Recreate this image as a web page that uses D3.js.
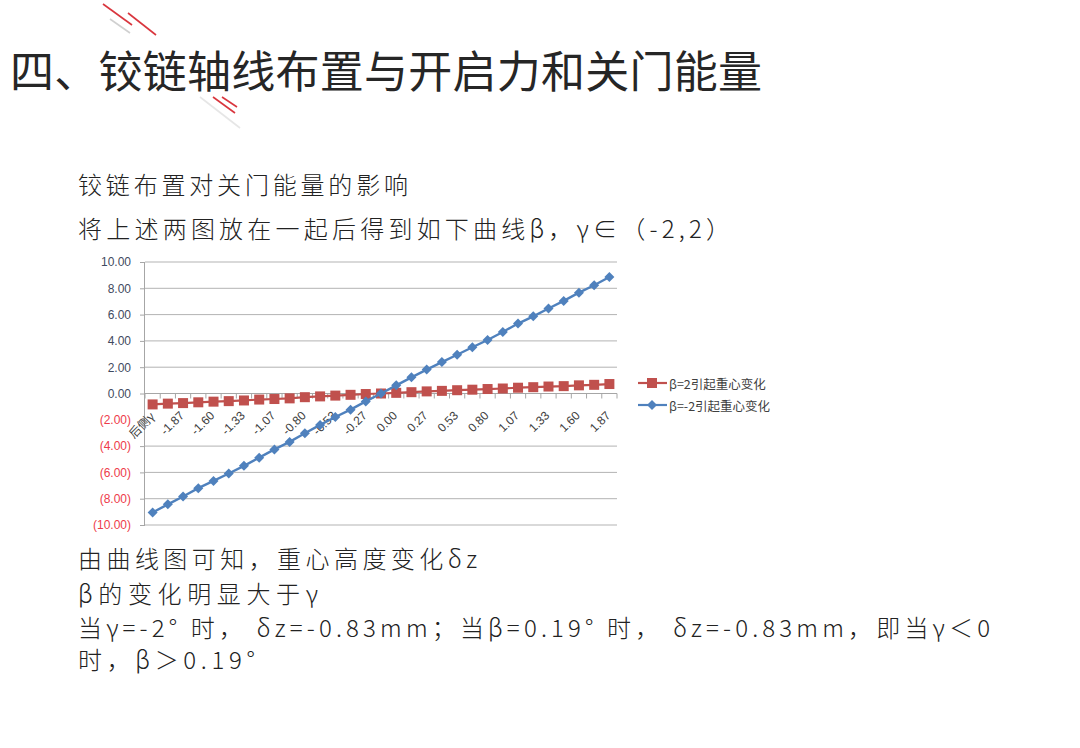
<!DOCTYPE html>
<html><head><meta charset="utf-8">
<script src="https://cdn.jsdelivr.net/npm/d3@7/dist/d3.min.js"></script>
<style>
html,body{margin:0;padding:0;background:#fff;}
svg{display:block;}
</style></head>
<body>
<svg id="c" width="1080" height="748"></svg>
<script>
// ---- data ----
const categories = ["后侧γ","-2.00","-1.87","-1.73","-1.60","-1.47","-1.33","-1.20","-1.07","-0.93","-0.80","-0.67","-0.53","-0.40","-0.27","-0.13","0.00","0.13","0.27","0.40","0.53","0.67","0.80","0.93","1.07","1.20","1.33","1.47","1.60","1.73","1.87"];
const redValues = [-0.83,-0.77,-0.73,-0.67,-0.62,-0.58,-0.53,-0.46,-0.42,-0.37,-0.28,-0.22,-0.16,-0.10,-0.04,0.00,0.05,0.10,0.16,0.20,0.25,0.29,0.34,0.38,0.44,0.48,0.53,0.56,0.62,0.66,0.72];
const blueValues = [-9.05,-8.43,-7.83,-7.20,-6.65,-6.08,-5.50,-4.88,-4.25,-3.68,-3.02,-2.39,-1.79,-1.23,-0.60,0.00,0.62,1.23,1.82,2.39,2.95,3.52,4.07,4.68,5.32,5.87,6.46,7.04,7.67,8.23,8.86];
const seriesNames = ["β=2引起重心变化","β=-2引起重心变化"];
const yTicks = [10,8,6,4,2,0,-2,-4,-6,-8,-10];

const title = "四、铰链轴线布置与开启力和关门能量";
const bodyTop = ["铰链布置对关门能量的影响","将上述两图放在一起后得到如下曲线β，γ∈（-2,2）"];
const bodyBottom = ["由曲线图可知，重心高度变化δz","β的变化明显大于γ","当γ=-2° 时， δz=-0.83mm；当β=0.19° 时，  δz=-0.83mm，即当γ＜0","时，β＞0.19°"];

// ---- layout ----
const svg = d3.select("#c");
const CJK = "'Noto Sans CJK SC','Noto Sans',sans-serif";
const LAT = "'Liberation Sans','DejaVu Sans',sans-serif";
const plot = {left:145, right:617, top:262, bottom:525};

// decorative strokes
const deco = svg.append("g");
[[103,4,132,25,"#d9363e"],[128,13,156,35,"#d9363e"],[110,19,130,33,"#d0d0d0"],
 [213,97,235,113,"#d9363e"],[222,97,237,107,"#d9363e"],[200,97,240,128,"#e6e6e6"]]
 .forEach(d=>deco.append("line").attr("x1",d[0]).attr("y1",d[1]).attr("x2",d[2]).attr("y2",d[3])
   .attr("stroke",d[4]).attr("stroke-width",1.6));

svg.append("text").attr("x",10).attr("y",69).attr("dominant-baseline","central")
  .attr("font-family",CJK).attr("font-size",44).attr("fill","#262626")
  .attr("textLength",752).attr("lengthAdjust","spacing").text(title);

const topY=[183,227], topW=[330,652];
bodyTop.forEach((t,i)=>svg.append("text").attr("x",78).attr("y",topY[i]).attr("dominant-baseline","central")
  .attr("font-family",CJK).attr("font-size",24).attr("font-weight",300).attr("fill","#222")
  .attr("textLength",topW[i]).attr("lengthAdjust","spacing").text(t));
const botY=[557,592,626,658], botW=[399,240,912,177];
bodyBottom.forEach((t,i)=>svg.append("text").attr("x",78).attr("y",botY[i]).attr("dominant-baseline","central")
  .attr("font-family",CJK).attr("font-size",24).attr("font-weight",300).attr("fill","#222")
  .attr("textLength",botW[i]).attr("lengthAdjust","spacing").text(t));

// ---- chart ----
const x = d3.scaleBand().domain(d3.range(categories.length)).range([plot.left,plot.right]);
const y = d3.scaleLinear().domain([-10,10]).range([plot.bottom,plot.top]);
const g = svg.append("g");

// gridlines
g.selectAll("line.grid").data(yTicks.filter(v=>v!==0 && v!==-2)).enter().append("line")
  .attr("x1",plot.left).attr("x2",plot.right).attr("y1",d=>y(d)).attr("y2",d=>y(d))
  .attr("stroke","#b3b3b3").attr("stroke-width",1);

// y axis
const yAxis = d3.axisLeft(y).tickValues(yTicks).tickSize(5).tickPadding(9)
  .tickFormat(v=> v<0 ? "("+(-v).toFixed(2)+")" : v.toFixed(2));
const ya = g.append("g").attr("transform",`translate(${plot.left},0)`).call(yAxis);
ya.select(".domain").attr("stroke","#a6a6a6").attr("d",`M-0.5,${plot.top}V${plot.bottom}`);
ya.selectAll(".tick line").attr("stroke","#a6a6a6");
ya.selectAll(".tick text").attr("font-family",LAT).attr("font-size",12)
  .attr("fill",d=> d<0 ? "#ee3b4a" : "#3f4a60");

// x axis at 0
g.append("line").attr("x1",plot.left).attr("x2",plot.right).attr("y1",y(0)).attr("y2",y(0))
  .attr("stroke","#a6a6a6").attr("stroke-width",1.2);
const bounds = d3.range(categories.length+1).map(i=> i<categories.length ? x(i) : x(i-1)+x.bandwidth());
g.selectAll("line.xt").data(bounds).enter().append("line")
  .attr("x1",d=>d).attr("x2",d=>d).attr("y1",y(0)).attr("y2",y(0)+5).attr("stroke","#a6a6a6");
g.selectAll("text.xl").data(categories.map((c,i)=>({c,i})).filter(d=>d.i%2===0)).enter().append("text")
  .attr("transform",d=>`translate(${x(d.i)+x.bandwidth()/2-1},${y(0)+20}) rotate(-45)`)
  .attr("text-anchor","end").attr("dominant-baseline","central")
  .attr("font-family",d=> d.i===0 ? CJK : LAT).attr("font-size",12).attr("fill","#404040")
  .text(d=>d.c);

const cx = i => x(i)+x.bandwidth()/2;
const line = d3.line().x((d,i)=>cx(i)).y(d=>y(d));

// red series
g.append("path").datum(redValues).attr("d",line).attr("fill","none").attr("stroke","#c0504d").attr("stroke-width",2.2);
g.selectAll("rect.rm").data(redValues).enter().append("rect")
  .attr("x",(d,i)=>cx(i)-5).attr("y",d=>y(d)-5).attr("width",10).attr("height",10).attr("fill","#c0504d");

// blue series
g.append("path").datum(blueValues).attr("d",line).attr("fill","none").attr("stroke","#4f81bd").attr("stroke-width",2.4);
const diamond = d3.symbol().type(d3.symbolDiamond2).size(64);
g.selectAll("path.bm").data(blueValues).enter().append("path")
  .attr("d",diamond).attr("transform",(d,i)=>`translate(${cx(i)},${y(d)})`).attr("fill","#4f81bd");

// legend
const legY=[383,405], legColors=["#c0504d","#4f81bd"];
seriesNames.forEach((n,i)=>{
  const lg = svg.append("g");
  lg.append("line").attr("x1",638).attr("x2",667).attr("y1",legY[i]).attr("y2",legY[i]).attr("stroke",legColors[i]).attr("stroke-width",2.2);
  if(i===0) lg.append("rect").attr("x",647).attr("y",legY[i]-5).attr("width",10).attr("height",10).attr("fill",legColors[i]);
  else lg.append("path").attr("d",diamond).attr("transform",`translate(652,${legY[i]})`).attr("fill",legColors[i]);
  lg.append("text").attr("x",669).attr("y",legY[i]).attr("dominant-baseline","central")
    .attr("font-family",CJK).attr("font-size",12.5).attr("fill","#404040").text(n);
});
</script>
</body></html>
